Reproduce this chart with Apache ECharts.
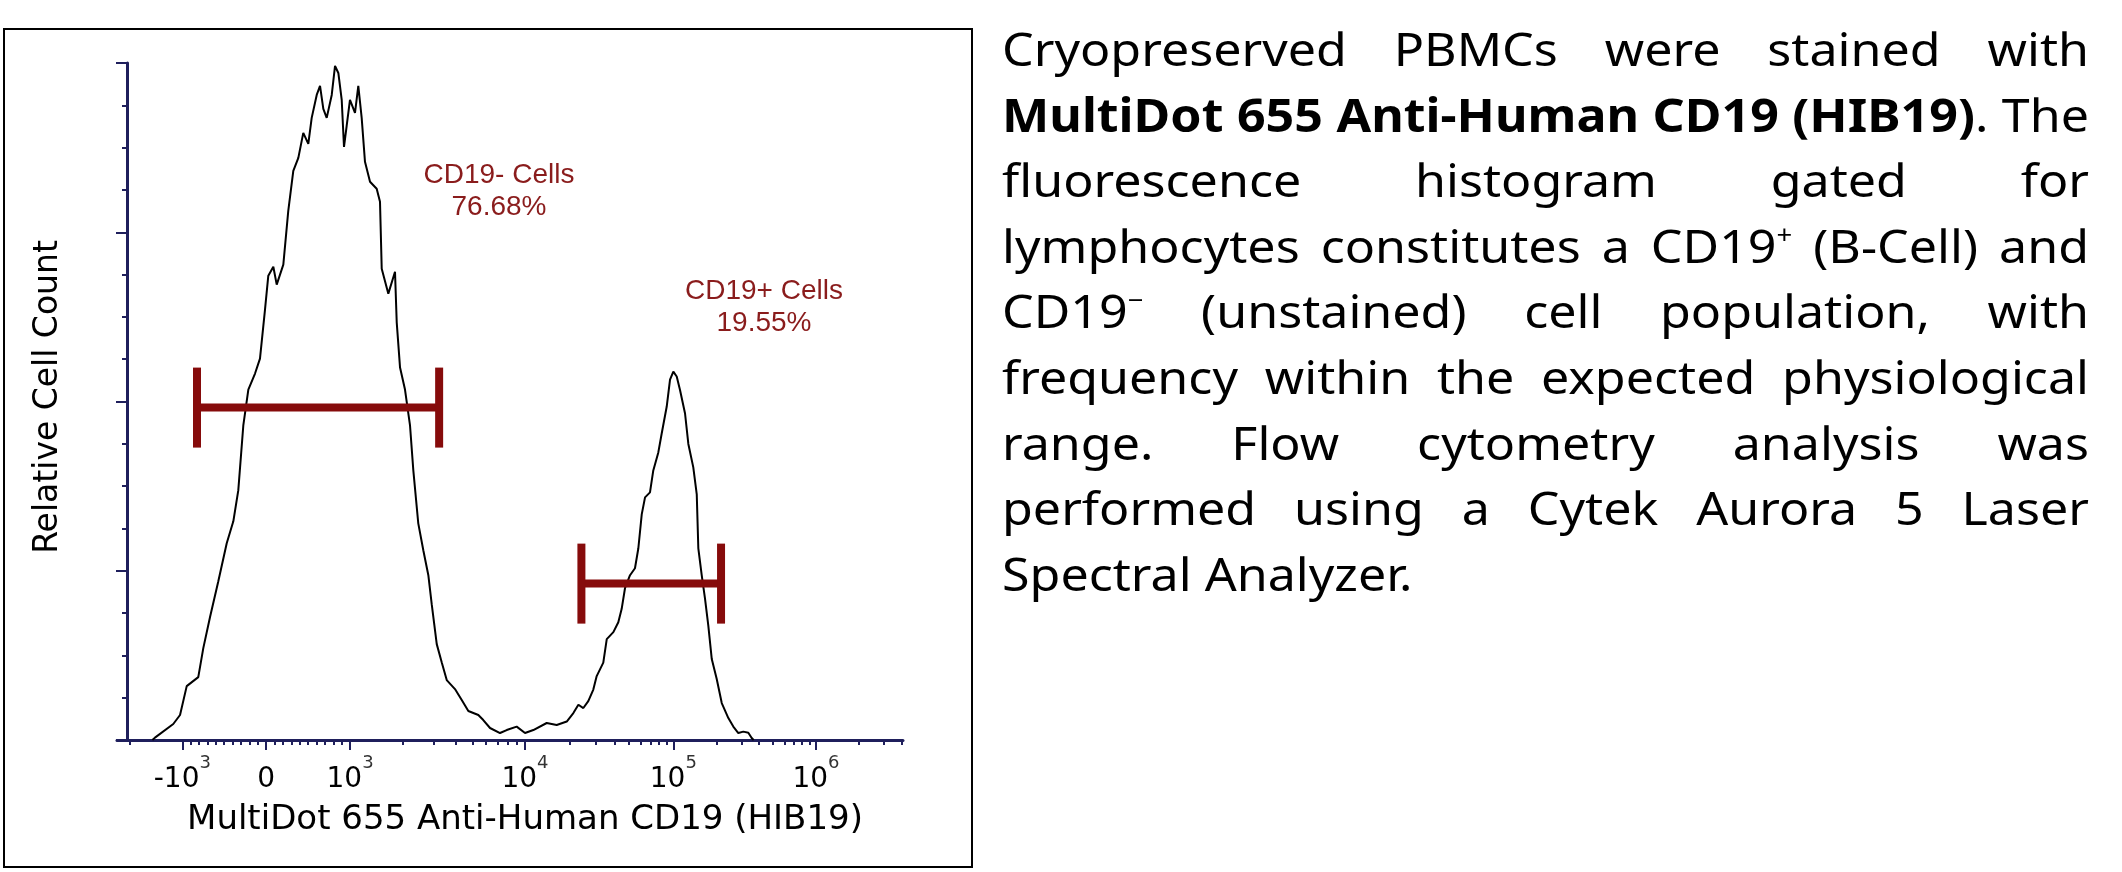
<!DOCTYPE html>
<html>
<head>
<meta charset="utf-8">
<title>CD19 histogram</title>
<script src="https://cdn.jsdelivr.net/npm/echarts@6/dist/echarts.min.js"></script>
<style>
  html, body { margin: 0; padding: 0; background: #fff; }
  #main { position: absolute; left: 0; top: 0; width: 2122px; height: 872px; }
  #note {
    position: absolute; left: 1002px; top: 16px;
    font-family: "Noto Sans", "DejaVu Sans", sans-serif; font-stretch: condensed;
    font-size: 46px; color: #000; transform-origin: 0 0;
  }
  #note div { height: 65.6px; line-height: 65.6px; text-align: justify; text-align-last: justify; }
  #note div.last { text-align: left; text-align-last: left; }
  #note sup { font-size: 0.55em; line-height: 0; vertical-align: 0.75em; }
</style>
</head>
<body>
<div id="main"></div>
<div id="note"></div>
<script>
// 直方图数据：横坐标为显示通道 (0-1000)，纵坐标为相对细胞数 (0-100)
var histChannel = [45, 48.3, 71.6, 80.2, 88.7, 103.4, 109.8, 118.3, 128.9, 139.6, 148.0, 154.3, 160.7, 167.1, 175.6,
  181.9, 188.3, 192.5, 198.9, 203.2, 211.6, 217.9, 224.3, 230.7, 237.0, 243.4, 247.7, 254.1, 258.3, 262.5,
  266.8, 273.2, 277.4, 281.6, 285.9, 288.8, 292.2, 296.4, 302.8, 307.0, 311.3, 315.5, 321.9, 330.4, 334.6,
  336.8, 345.2, 353.7, 355.9, 360.1, 366.4, 372.8, 377.0, 383.3, 389.7, 396.1, 400.4, 406.8, 413.1, 419.5,
  430.0, 438.6, 447.0, 459.7, 466.0, 474.6, 487.3, 495.8, 508.5, 519.1, 529.7, 546.7, 559.4, 572.2, 580.6,
  587.0, 593.3, 599.6, 606.0, 610.3, 618.7, 623.1, 631.5, 637.8, 642.1, 646.3, 652.7, 659.0, 663.3, 667.6,
  671.8, 678.1, 682.3, 688.7, 693.0, 699.4, 703.6, 707.8, 712.1, 716.3, 722.7, 726.9, 733.2, 737.6, 739.6,
  743.9, 748.1, 752.3, 756.7, 763.0, 769.4, 777.8, 784.1, 790.5, 796.8, 803.2, 807.5, 810];
var histCount = [0, 0.35, 2.36, 3.69, 7.96, 9.29, 13.57, 18.14, 23.45, 29.06, 32.3, 36.87, 46.46, 51.77, 54.13,
  56.34, 63.57, 68.58, 69.91, 67.26, 70.21, 78.17, 84.07, 85.99, 89.68, 88.05, 91.89, 95.28, 96.61, 93.22,
  91.89, 95.28, 99.56, 98.53, 94.54, 87.61, 90.71, 94.54, 92.63, 96.61, 91.89, 85.4, 82.45, 81.42, 79.5,
  69.62, 65.93, 69.17, 61.65, 55.01, 51.77, 46.46, 39.82, 32.0, 28.02, 24.34, 20.06, 14.16, 11.5, 8.85,
  7.52, 5.9, 4.28, 3.69, 2.95, 1.77, 1.03, 1.47, 1.98, 1.03, 1.47, 2.51, 2.21, 2.73, 3.98,
  5.21, 4.72, 5.75, 7.45, 9.44, 11.43, 14.9, 15.93, 17.4, 19.38, 22.42, 24.34, 25.37, 28.32, 33.33,
  35.84, 36.58, 39.82, 42.48, 45.28, 49.26, 53.24, 54.42, 53.69, 51.7, 48.23, 43.73, 40.27, 36.28, 28.32,
  24.34, 20.87, 16.89, 11.95, 9.0, 5.46, 3.24, 1.98, 1.03, 1.24, 1.08, 0.3, 0];

// 门 (gate)：荧光强度区间与所在高度
var gateNames = ['CD19- Cells', 'CD19+ Cells'];
var gatePercents = ['76.68%', '19.55%'];
var gateLow = [-825, 24000];
var gateHigh = [3230, 216000];
var gateLevel = [49.1, 23.1];

// 双指数坐标轴定义
var zeroChan = 189.8;          // 0 所在通道
var linChanPer1000 = 106.7;    // 线性区 1000 单位对应的通道数
var decadeValues = [1e3, 1e4, 1e5, 1e6, 1e7];
var decadeChans = [296.5, 519.1, 707.8, 889.3, 1070.9];

var majorValues = [-1e3, 0, 1e3, 1e4, 1e5, 1e6];
var majorBase = ['-10', '0', '10', '10', '10', '10'];
var majorExp = ['3', '', '3', '4', '5', '6'];
var minorValues = [-2000, -900, -800, -700, -600, -500, -400, -300, -200, -100,
  100, 200, 300, 400, 500, 600, 700, 800, 900,
  2e3, 3e3, 4e3, 5e3, 6e3, 7e3, 8e3, 9e3,
  2e4, 3e4, 4e4, 5e4, 6e4, 7e4, 8e4, 9e4,
  2e5, 3e5, 4e5, 5e5, 6e5, 7e5, 8e5, 9e5,
  2e6, 3e6, 4e6];

var yTitle = 'Relative Cell Count';
var xTitle = 'MultiDot 655 Anti-Human CD19 (HIB19)';

var noteLines = [
  'Cryopreserved PBMCs were stained with',
  '<b>MultiDot 655 Anti-Human CD19 (HIB19)</b>. The',
  'fluorescence histogram gated for',
  'lymphocytes constitutes a CD19<sup>+</sup> (B-Cell) and',
  'CD19<sup>\u2212</sup> (unstained) cell population, with',
  'frequency within the expected physiological',
  'range. Flow cytometry analysis was',
  'performed using a Cytek Aurora 5 Laser',
  'Spectral Analyzer.'
];

function chan(v) {
  if (v < -1000) return 2 * zeroChan - chan(-v);
  if (v <= 1000) return zeroChan + v / 1000 * linChanPer1000;
  for (var i = 0; i < decadeValues.length - 1; i++) {
    if (v <= decadeValues[i + 1]) {
      var f = Math.log10(v / decadeValues[i]);
      return decadeChans[i] + f * (decadeChans[i + 1] - decadeChans[i]);
    }
  }
  return decadeChans[decadeChans.length - 1];
}

var majorChans = majorValues.map(chan);
var minorChans = minorValues.map(chan);
var histData = histChannel.map(function (c, i) { return [c, histCount[i]]; });
var gateData = gateLow.map(function (lo, i) { return [chan(lo), chan(gateHigh[i]), gateLevel[i]]; });

var axisColor = '#1f1f5c';
var gateColor = '#860b0b';
var textFont = '"DejaVu Sans", Verdana, sans-serif';

var myChart = echarts.init(document.getElementById('main'));

myChart.setOption({
  animation: false,
  grid: { left: 117, top: 63, width: 786, height: 677 },
  xAxis: [{
    type: 'value', min: 0, max: 1000, position: 'bottom',
    axisLine: { onZero: false, lineStyle: { color: axisColor, width: 3 } },
    axisTick: { customValues: majorChans, length: 10, lineStyle: { color: axisColor, width: 2 } },
    splitLine: { show: false },
    axisLabel: {
      customValues: majorChans,
      margin: 14,
      formatter: function (val) {
        var best = 0;
        for (var i = 1; i < majorChans.length; i++) {
          if (Math.abs(majorChans[i] - val) < Math.abs(majorChans[best] - val)) best = i;
        }
        return '{b|' + majorBase[best] + '}' + (majorExp[best] ? '{e|' + majorExp[best] + '}' : '');
      },
      rich: {
        b: { fontFamily: textFont, fontSize: 28, color: '#000', lineHeight: 40, verticalAlign: 'bottom' },
        e: { fontFamily: textFont, fontSize: 18, color: '#333', lineHeight: 18, verticalAlign: 'top' }
      }
    }
  }, {
    type: 'value', min: 0, max: 1000, position: 'bottom',
    axisLine: { show: false, onZero: false },
    axisTick: { customValues: minorChans, length: 5, lineStyle: { color: axisColor, width: 2 } },
    axisLabel: { show: false },
    splitLine: { show: false }
  }],
  yAxis: {
    type: 'value', min: 0, max: 100, interval: 25, offset: -10,
    axisLine: { show: true, onZero: false, lineStyle: { color: axisColor, width: 3 } },
    axisTick: { show: true, length: 11, lineStyle: { color: axisColor, width: 2 } },
    minorTick: { show: true, splitNumber: 4, length: 5, lineStyle: { color: axisColor, width: 2 } },
    axisLabel: { show: false },
    splitLine: { show: false }
  },
  graphic: [
    { type: 'rect', shape: { x: 4, y: 29, width: 968, height: 838 },
      style: { fill: 'none', stroke: '#000', lineWidth: 2 } },
    { type: 'text', x: 48, y: 397, rotation: Math.PI / 2,
      style: { text: yTitle, fontFamily: textFont, fontSize: 33, fill: '#000',
        align: 'center', verticalAlign: 'middle' } },
    { type: 'text', x: 525, y: 820,
      style: { text: xTitle, fontFamily: textFont, fontSize: 34, fill: '#000',
        align: 'center', verticalAlign: 'middle' } },
    { type: 'text', x: 499, y: 191,
      style: { text: gateNames[0] + '\n' + gatePercents[0], fontFamily: '"Liberation Sans", Arial, sans-serif',
        fontSize: 28, lineHeight: 32, fill: '#8a1c1c', align: 'center', verticalAlign: 'middle' } },
    { type: 'text', x: 764, y: 307,
      style: { text: gateNames[1] + '\n' + gatePercents[1], fontFamily: '"Liberation Sans", Arial, sans-serif',
        fontSize: 28, lineHeight: 32, fill: '#8a1c1c', align: 'center', verticalAlign: 'middle' } }
  ],
  series: [{
    type: 'line',
    data: histData,
    showSymbol: false,
    lineStyle: { color: '#000', width: 2 },
    z: 3
  }, {
    type: 'custom',
    data: gateData,
    z: 4,
    renderItem: function (params, api) {
      var a = api.coord([api.value(0), api.value(2)]);
      var b = api.coord([api.value(1), api.value(2)]);
      var cap = 40;
      var st = { stroke: gateColor, lineWidth: 8 };
      return {
        type: 'group',
        children: [
          { type: 'line', shape: { x1: a[0], y1: a[1], x2: b[0], y2: b[1] }, style: st },
          { type: 'line', shape: { x1: a[0], y1: a[1] - cap, x2: a[0], y2: a[1] + cap }, style: st },
          { type: 'line', shape: { x1: b[0], y1: b[1] - cap, x2: b[0], y2: b[1] + cap }, style: st }
        ]
      };
    }
  }]
});

// 右侧说明文字：逐行两端对齐
var note = document.getElementById('note');
var maxW = 0;
noteLines.forEach(function (html) {
  var probe = document.createElement('span');
  probe.style.whiteSpace = 'nowrap';
  probe.style.visibility = 'hidden';
  probe.innerHTML = html;
  note.appendChild(probe);
  maxW = Math.max(maxW, probe.getBoundingClientRect().width);
  note.removeChild(probe);
});
var boxW = Math.ceil(maxW) + 2;
note.style.width = boxW + 'px';
note.style.transform = 'scaleX(' + (1087 / boxW) + ')';
noteLines.forEach(function (html, i) {
  var d = document.createElement('div');
  if (i === noteLines.length - 1) d.className = 'last';
  d.innerHTML = html;
  note.appendChild(d);
});
</script>
</body>
</html>
